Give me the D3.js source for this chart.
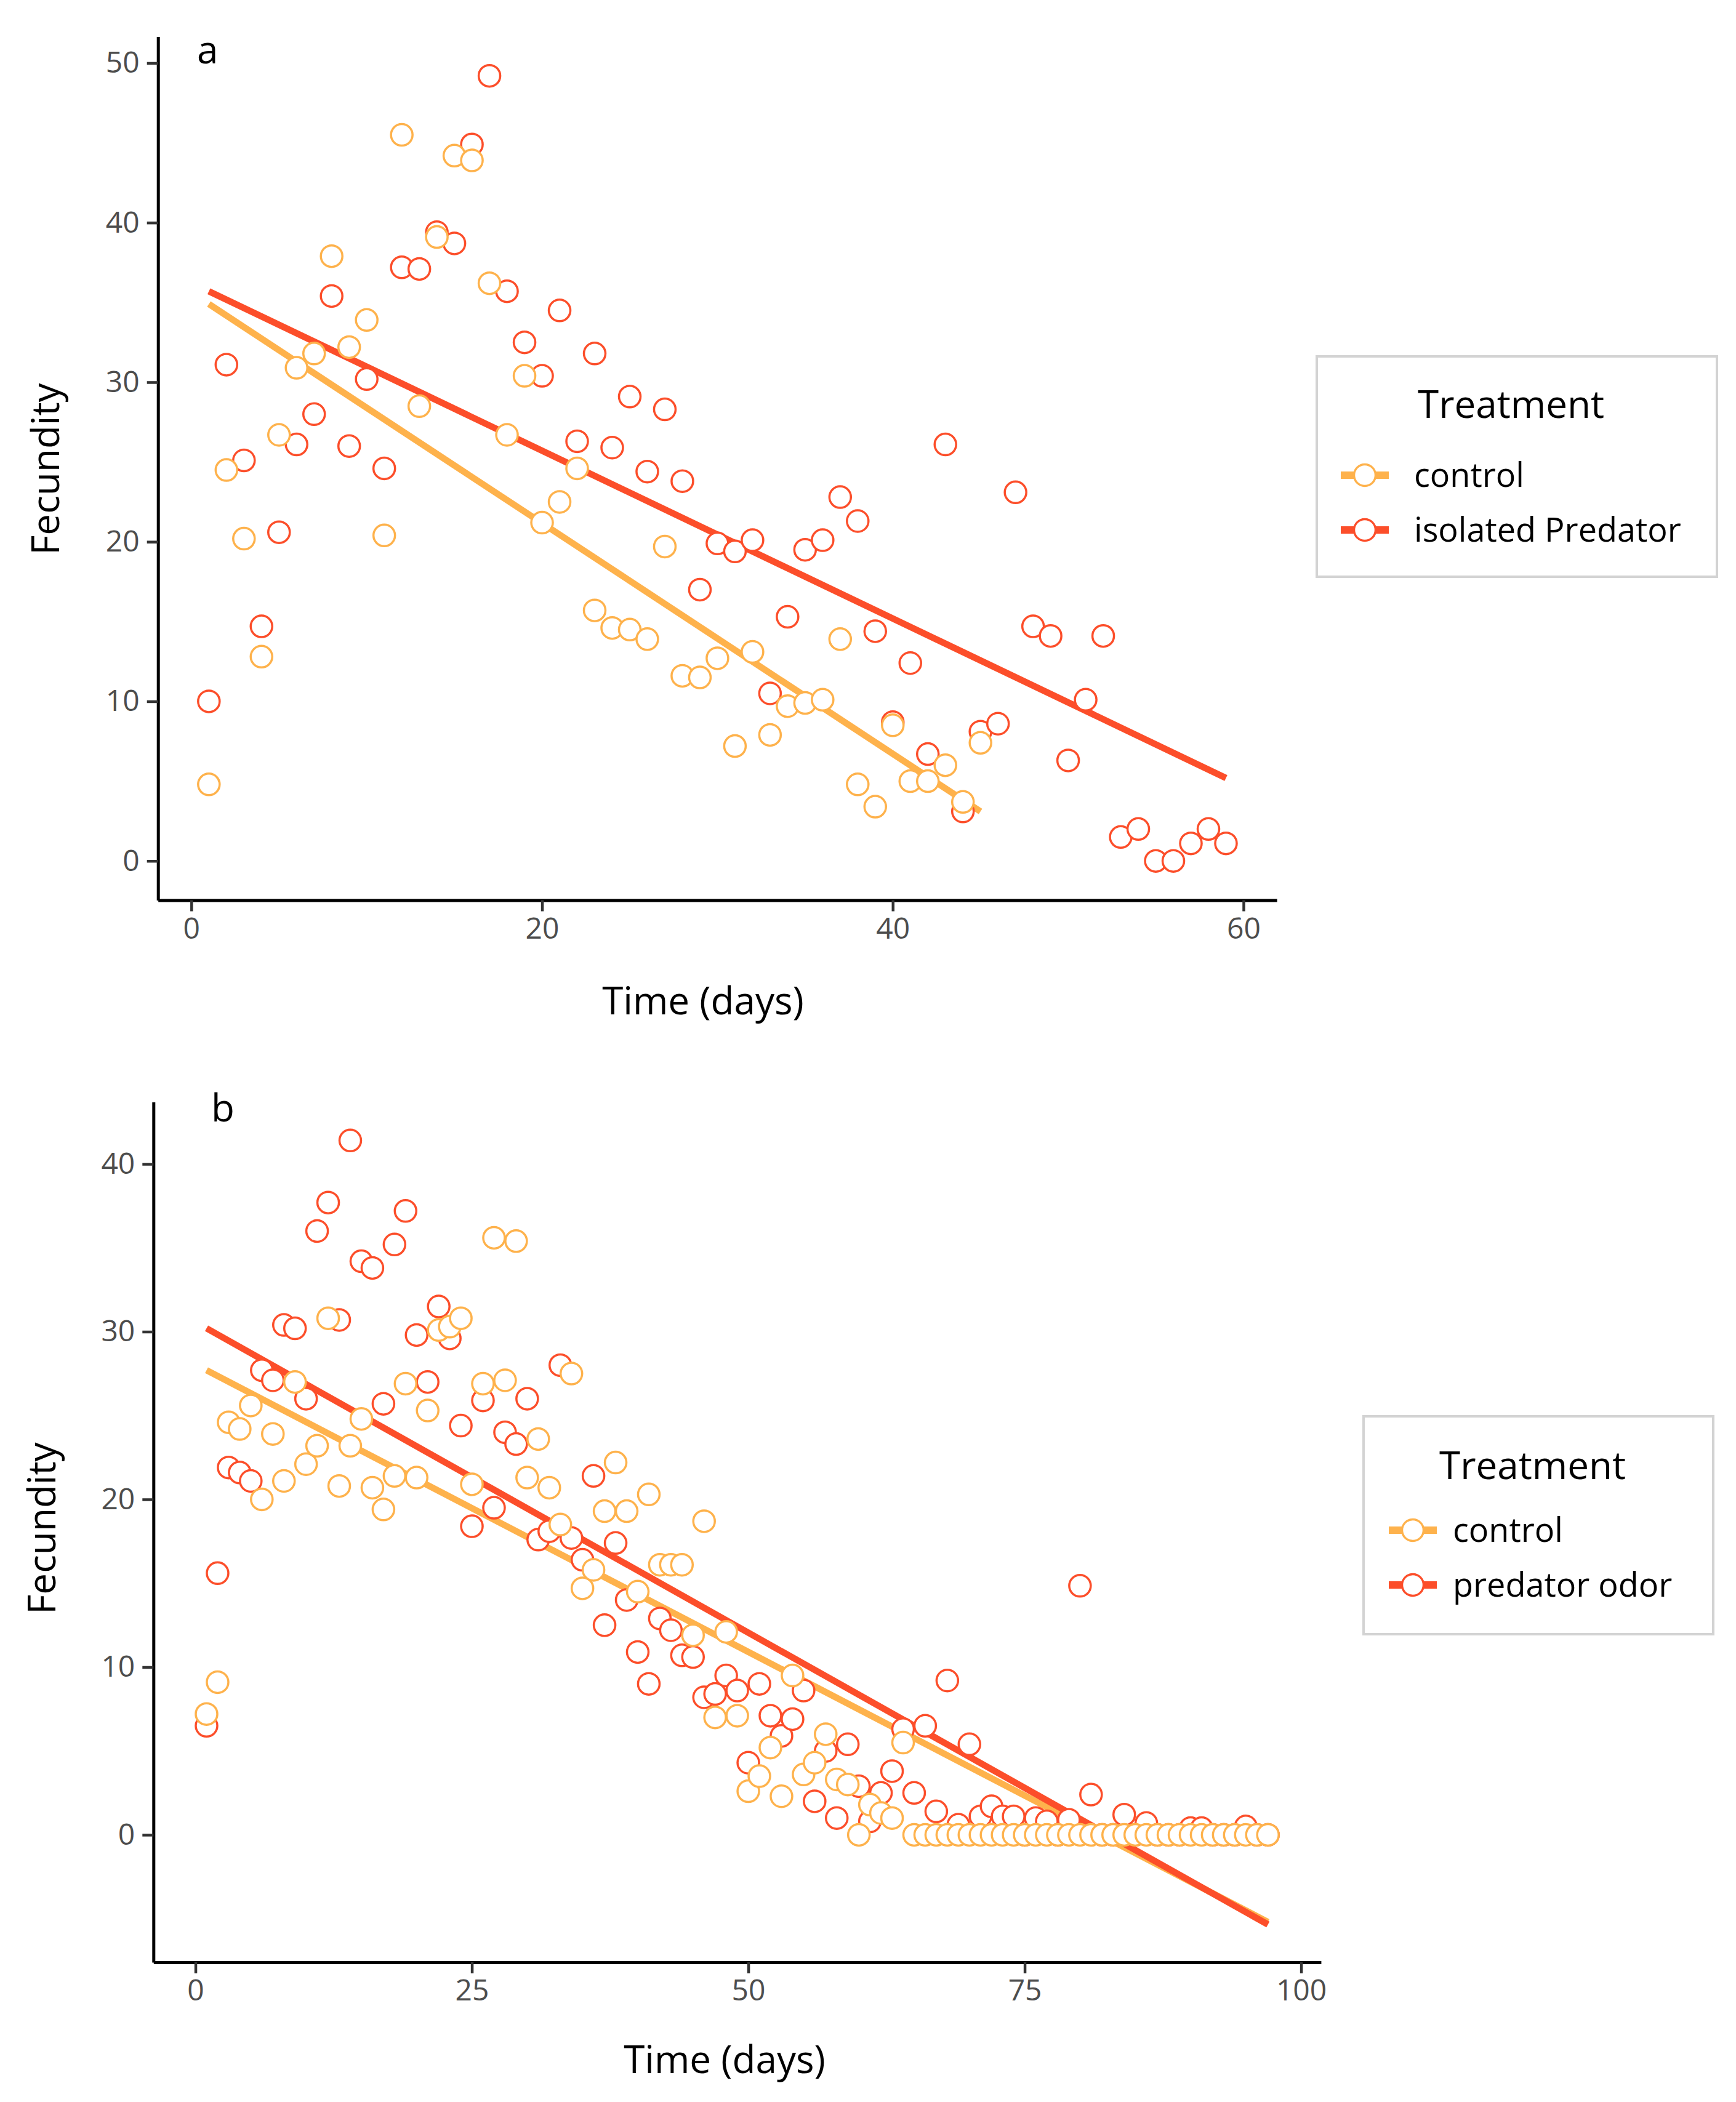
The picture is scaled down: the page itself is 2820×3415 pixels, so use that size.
<!DOCTYPE html>
<html>
<head>
    <script src="https://d3js.org/d3.v7.min.js"></script>
    <meta charset="utf-8">
    <style>
        body { margin: 0; background: #fff; }
        text { font-family: "Open Sans", "Noto Sans", sans-serif; }
    </style>
</head>
<body>
    <script>
        // panel a: one value per day, starting at day 1
        var controlA = [4.8, 24.5, 20.2, 12.8, 26.7, 30.9, 31.8, 37.9, 32.2, 33.9,
                        20.4, 45.5, 28.5, 39.1, 44.2, 43.9, 36.2, 26.7, 30.4, 21.2,
                        22.5, 24.6, 15.7, 14.6, 14.5, 13.9, 19.7, 11.6, 11.5, 12.7,
                        7.2, 13.1, 7.9, 9.7, 9.9, 10.1, 13.9, 4.8, 3.4, 8.5,
                        5.0, 5.0, 6.0, 3.7, 7.4];
        var isolatedA = [10.0, 31.1, 25.1, 14.7, 20.6, 26.1, 28.0, 35.4, 26.0, 30.2,
                         24.6, 37.2, 37.1, 39.4, 38.7, 44.9, 49.2, 35.7, 32.5, 30.4,
                         34.5, 26.3, 31.8, 25.9, 29.1, 24.4, 28.3, 23.8, 17.0, 19.9,
                         19.4, 20.1, 10.5, 15.3, 19.5, 20.1, 22.8, 21.3, 14.4, 8.7,
                         12.4, 6.7, 26.1, 3.1, 8.1, 8.6, 23.1, 14.7, 14.1, 6.3,
                         10.1, 14.1, 1.5, 2.0, 0.0, 0.0, 1.1, 2.0, 1.1];
        // fitted lines, [day, fecundity] at both ends
        var fitControlA = [[1, 34.9], [45, 3.1]];
        var fitIsolatedA = [[1, 35.7], [59, 5.2]];

        // panel b
        var controlB = [7.2, 9.1, 24.6, 24.2, 25.6, 20.0, 23.9, 21.1, 27.0, 22.1,
                        23.2, 30.8, 20.8, 23.2, 24.8, 20.7, 19.4, 21.4, 26.9, 21.3,
                        25.3, 30.1, 30.3, 30.8, 20.9, 26.9, 35.6, 27.1, 35.4, 21.3,
                        23.6, 20.7, 18.5, 27.5, 14.7, 15.8, 19.3, 22.2, 19.3, 14.5,
                        20.3, 16.1, 16.1, 16.1, 11.9, 18.7, 7.0, 12.1, 7.1, 2.6,
                        3.5, 5.2, 2.3, 9.5, 3.6, 4.3, 6.0, 3.3, 3.0, 0.0,
                        1.8, 1.3, 1.0, 5.5, 0, 0, 0, 0, 0, 0,
                        0, 0, 0, 0, 0, 0, 0, 0, 0, 0,
                        0, 0, 0, 0, 0, 0, 0, 0, 0, 0,
                        0, 0, 0, 0, 0, 0, 0];
        var odorB = [6.5, 15.6, 21.9, 21.6, 21.1, 27.7, 27.1, 30.4, 30.2, 26.0,
                     36.0, 37.7, 30.7, 41.4, 34.2, 33.8, 25.7, 35.2, 37.2, 29.8,
                     27.0, 31.5, 29.6, 24.4, 18.4, 25.9, 19.5, 24.0, 23.3, 26.0,
                     17.6, 18.1, 28.0, 17.7, 16.4, 21.4, 12.5, 17.4, 14.0, 10.9,
                     9.0, 12.9, 12.2, 10.7, 10.6, 8.2, 8.4, 9.5, 8.6, 4.3,
                     9.0, 7.1, 5.9, 6.9, 8.6, 2.0, 5.0, 1.0, 5.4, 2.9,
                     0.8, 2.5, 3.8, 6.3, 2.5, 6.5, 1.4, 9.2, 0.6, 5.4,
                     1.1, 1.7, 1.1, 1.1, 0, 1.0, 0.8, 0, 0.9, 14.85,
                     2.4, 0, 0, 1.2, 0, 0.7, 0, 0, 0, 0.4,
                     0.4, 0, 0, 0, 0.5, 0, 0];
        var fitControlB = [[1, 27.7], [97, -5.2]];
        var fitOdorB = [[1, 30.2], [97, -5.35]];

        var xTicksA = [0, 20, 40, 60], yTicksA = [0, 10, 20, 30, 40, 50];
        var xTicksB = [0, 25, 50, 75, 100], yTicksB = [0, 10, 20, 30, 40];
        var treatmentsA = ['control', 'isolated Predator'];
        var treatmentsB = ['control', 'predator odor'];

        var orange = '#FEB24C', red = '#FC4E2A';

        var svg = d3.select('body')
            .append('svg')
            .attr('width', 2820)
            .attr('height', 3415);

        function drawPanel(p) {
            var g = svg.append('g');
            var x = d3.scaleLinear().domain(p.xDomain).range(p.xRange);
            var y = d3.scaleLinear().domain(p.yDomain).range(p.yRange);

            var line = d3.line()
                .x(function (d) { return x(d[0]); })
                .y(function (d) { return y(d[1]); });

            g.selectAll('path.fit')
                .data([p.fits[0], p.fits[1]])
                .enter()
                .append('path')
                .attr('class', 'fit')
                .attr('d', line)
                .attr('fill', 'none')
                .attr('stroke', function (d, i) { return i == 0 ? orange : red; })
                .attr('stroke-width', 10.5);

            // treatment drawn first, control on top of it
            [[p.series[1], red], [p.series[0], orange]].forEach(function (s) {
                g.append('g').selectAll('circle')
                    .data(s[0])
                    .enter()
                    .append('circle')
                    .attr('cx', function (d, i) { return x(i + 1); })
                    .attr('cy', function (d) { return y(d); })
                    .attr('r', 17.5)
                    .attr('fill', 'white')
                    .attr('stroke', s[1])
                    .attr('stroke-width', 3.5);
            });

            var xAxis = g.append('g')
                .attr('transform', 'translate(0,' + p.yRange[0] + ')')
                .call(d3.axisBottom(x).tickValues(p.xTicks).tickSize(18).tickSizeOuter(0).tickPadding(10));
            var yAxis = g.append('g')
                .attr('transform', 'translate(' + p.xRange[0] + ',0)')
                .call(d3.axisLeft(y).tickValues(p.yTicks).tickSize(18).tickSizeOuter(0).tickPadding(12));

            [xAxis, yAxis].forEach(function (a) {
                a.select('.domain').attr('stroke', '#000').attr('stroke-width', 5);
                a.selectAll('.tick line').attr('stroke', '#333').attr('stroke-width', 4.5);
                a.selectAll('.tick text')
                    .attr('fill', '#4D4D4D')
                    .style('font-size', '48px')
                    .style('font-family', '"Open Sans", sans-serif');
            });

            g.append('text')
                .attr('x', p.letter[0]).attr('y', p.letter[1])
                .style('font-size', '62px')
                .text(p.name);

            g.append('text')
                .attr('x', p.xTitle[0]).attr('y', p.xTitle[1])
                .attr('text-anchor', 'middle')
                .style('font-size', '62px')
                .text('Time (days)');

            g.append('text')
                .attr('transform', 'translate(' + p.yTitle[0] + ',' + p.yTitle[1] + ') rotate(-90)')
                .attr('text-anchor', 'middle')
                .style('font-size', '62px')
                .text('Fecundity');

            // legend
            var L = p.legend;
            var lg = g.append('g');
            lg.append('rect')
                .attr('x', L.box[0]).attr('y', L.box[1])
                .attr('width', L.box[2]).attr('height', L.box[3])
                .attr('fill', 'white')
                .attr('stroke', '#D3D3D3')
                .attr('stroke-width', 4);
            lg.append('text')
                .attr('x', L.title[0]).attr('y', L.title[1])
                .style('font-size', '62px')
                .text('Treatment');

            var items = lg.selectAll('g.item')
                .data(p.labels)
                .enter()
                .append('g')
                .attr('class', 'item')
                .attr('transform', function (d, i) {
                    return 'translate(' + L.key + ',' + (L.rows[0] + i * L.step) + ')';
                });
            items.append('line')
                .attr('x1', -39).attr('x2', 39)
                .attr('stroke', function (d, i) { return i == 0 ? orange : red; })
                .attr('stroke-width', 12);
            items.append('circle')
                .attr('r', 17.5)
                .attr('fill', 'white')
                .attr('stroke', function (d, i) { return i == 0 ? orange : red; })
                .attr('stroke-width', 3.5);
            items.append('text')
                .attr('x', L.text - L.key)
                .attr('dy', '0.35em')
                .style('font-size', '54px')
                .text(function (d) { return d; });
        }

        drawPanel({
            name: 'a',
            series: [controlA, isolatedA],
            fits: [fitControlA, fitIsolatedA],
            labels: treatmentsA,
            xTicks: xTicksA, yTicks: yTicksA,
            xDomain: [-1.9, 61.9], xRange: [256.7, 2074.1],
            yDomain: [-2.46, 51.66], yRange: [1462.5, 59.4],
            letter: [320, 103],
            xTitle: [1142, 1648],
            yTitle: [96, 762],
            legend: { box: [2139, 579, 650, 358], title: [2303, 679],
                      key: 2217, text: 2297, rows: [772, 861], step: 89 }
        });

        drawPanel({
            name: 'b',
            series: [controlB, odorB],
            fits: [fitControlB, fitOdorB],
            labels: treatmentsB,
            xTicks: xTicksB, yTicks: yTicksB,
            xDomain: [-3.8, 101.8], xRange: [249.3, 2145.9],
            yDomain: [-7.6, 43.7], yRange: [3188, 1790.2],
            letter: [343, 1822],
            xTitle: [1177, 3368],
            yTitle: [90, 2483],
            legend: { box: [2215, 2301, 568, 354], title: [2338, 2403],
                      key: 2295, text: 2360, rows: [2486, 2575], step: 89 }
        });
    </script>
</body>
</html>
